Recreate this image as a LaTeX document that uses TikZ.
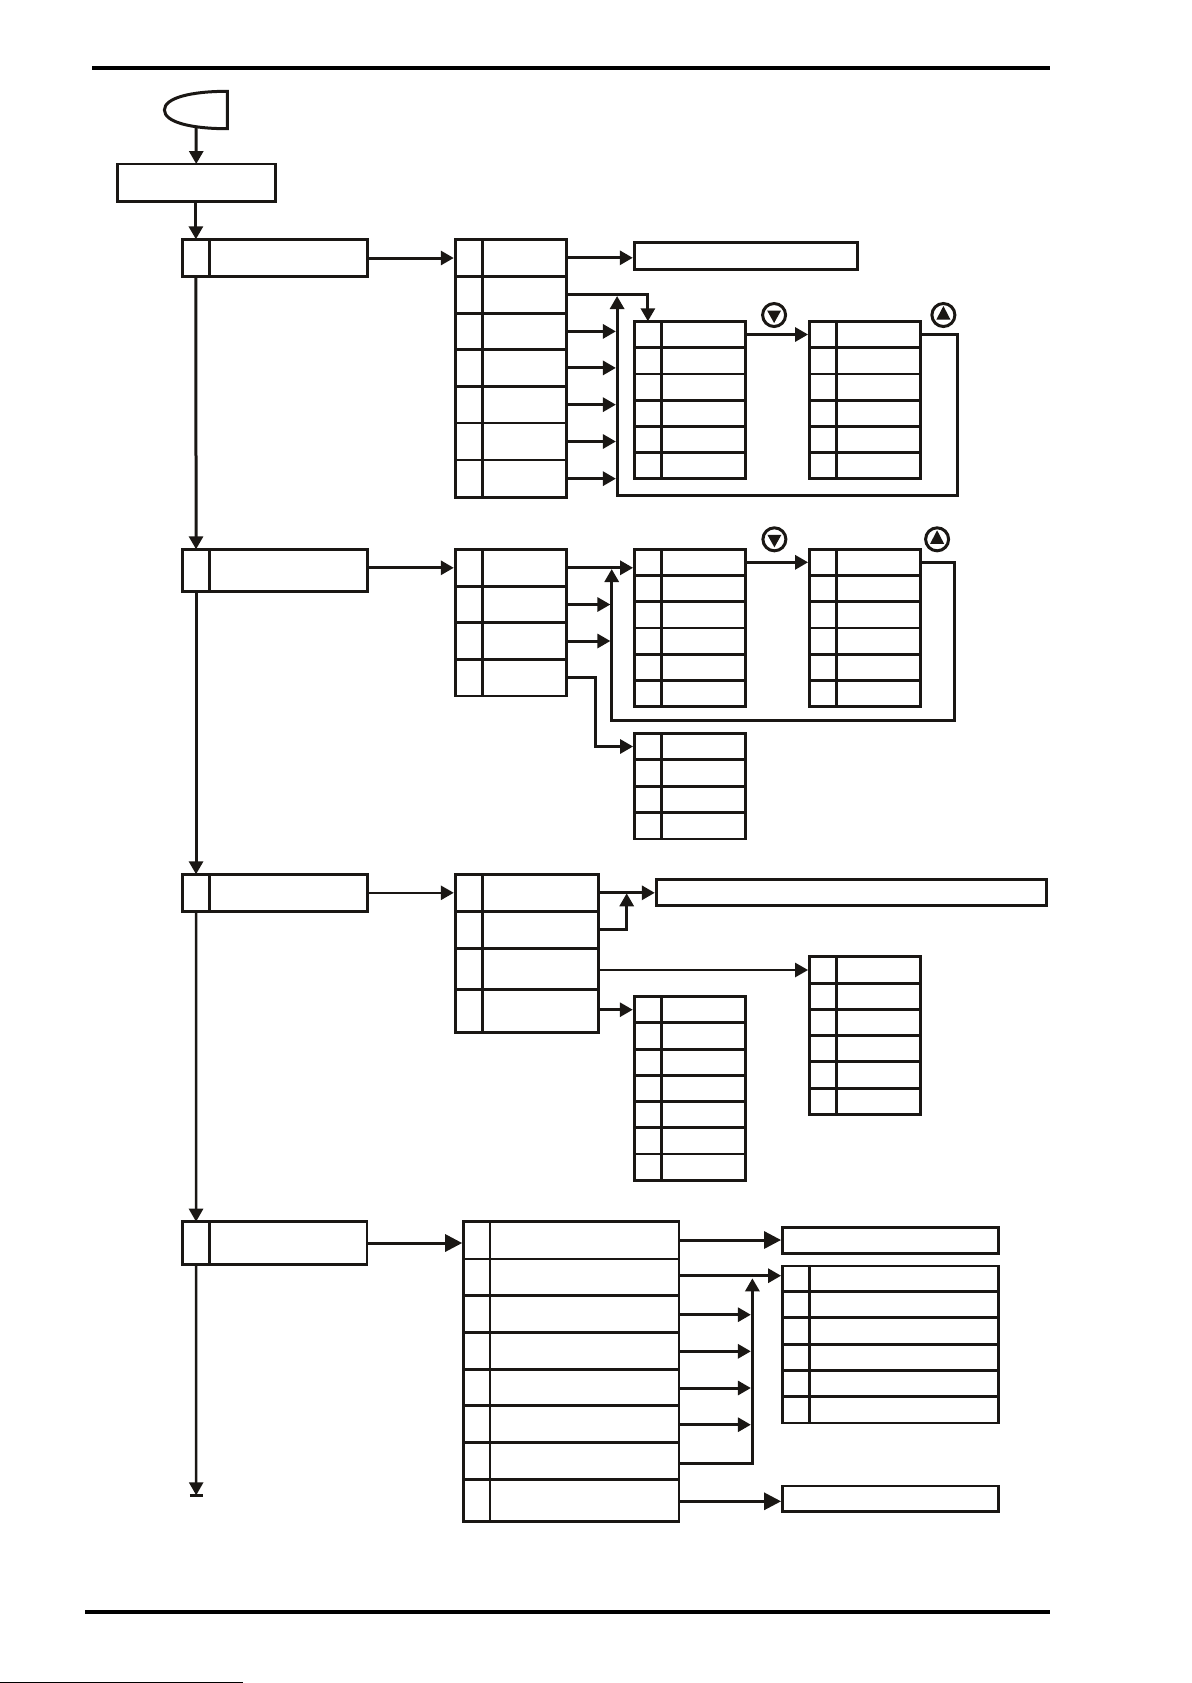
\documentclass[tikz,border=0pt]{standalone}
\usetikzlibrary{arrows.meta}
\definecolor{ink}{HTML}{1A1714}
\tikzset{
  cellb/.style={draw=ink,line width=1.4pt,shape=rectangle,anchor=north west,inner sep=0pt,outer sep=0pt,fill=white},
  conn/.style={draw=ink,line width=1.5pt,-{Triangle[length=6.5pt,width=7pt]}},
  bigconn/.style={draw=ink,line width=1.5pt,-{Triangle[length=8.5pt,width=8.5pt]}},
  thinconn/.style={draw=ink,line width=1.3pt,-{Triangle[length=6.5pt,width=7pt]}},
  tobox/.style={shorten >=0.8pt},
  pagerule/.style={draw=black,line width=2.15pt},
  keyring/.style={draw=ink,line width=1.5pt,shape=circle,inner sep=0pt,outer sep=0pt,minimum size=11.5pt}
}
\newcommand\cellbox[5]{\node[cellb,minimum width={(#4-#2)*0.5pt},minimum height={(#5-#3)*0.5pt}] (#1) at (#2,#3) {};}
% name, x left, x split, x right, list of row lines
\newcommand\tablebox[5]{%
  \foreach \yy [count=\ii, remember=\yy as \py (initially 0)] in {#5} {%
    \ifnum\ii>1
      \pgfmathtruncatemacro\rr{\ii-1}%
      \cellbox{#1L\rr}{#2}{\py}{#3}{\yy}%
      \cellbox{#1R\rr}{#3}{\py}{#4}{\yy}%
    \fi
  }%
}
\newcommand\keydown[3]{\node[keyring] (#1) at (#2,#3) {};
  \fill[ink] ({#2-7},{#3-4.5}) -- ({#2+7},{#3-4.5}) -- (#2,{#3+8}) -- cycle;}
\newcommand\keyup[3]{\node[keyring] (#1) at (#2,#3) {};
  \fill[ink] ({#2-7},{#3+4.5}) -- ({#2+7},{#3+4.5}) -- (#2,{#3-9}) -- cycle;}
\begin{document}
\begin{tikzpicture}[x=0.5pt,y=-0.5pt]
\useasboundingbox (0,0) rectangle (1191,1683);
% page rules
\coordinate (tl) at (92,68); \coordinate (tr) at (1050,68);
\coordinate (bl) at (85,1612); \coordinate (br) at (1050,1612);
\draw[pagerule] (tl) -- (tr);
\draw[pagerule] (bl) -- (br);
\coordinate (el) at (0,1682.3); \coordinate (er) at (243,1682.3);
\draw[black,line width=0.5pt] (el) -- (er);
\begin{scope}[xshift=0.2pt]
% start terminal
\draw[ink,line width=1.5pt,line join=miter] (227,91.3) -- (227,128.7) .. controls (190,128.7) and (164,122) .. (164,110) .. controls (164,98) and (190,91.3) .. (227,91.3) -- cycle;
\coordinate (startb) at (195.8,126);
\cellbox{init}{116.7}{164}{275}{201.7}
\draw[conn] (startb) -- (init.north);
% section 1
\tablebox{a}{182}{209}{367}{239.3,276.7}
\tablebox{la}{455}{481.7}{566}{239.3,276.3,313.3,349.5,386.3,423,460,497.3}
\cellbox{fa}{634}{242.7}{856.7}{269.3}
\tablebox{ta}{634}{661}{745.3}{321.3,347.7,374,400.3,426.3,452.3,478.7}
\tablebox{tb}{809.3}{836}{920}{321.3,347.7,374,400.3,426.3,452.3,478.7}
\draw[conn] (init.south -| aL1.north) -- (aL1.north);
\draw[conn,tobox] (aR1.east) -- (aR1.east -| laL1.west);
\draw[conn,tobox] (laR1.east) -- (laR1.east -| fa.west);
\draw[conn] (laR2.east) -| (taL1.north);
\draw[conn,tobox] (taR1.east) -- (tbL1.west);
\coordinate (ra) at (957.3,495.3); \coordinate (rb) at (616.7,495.3); \coordinate (rc) at (616.7,296);
\draw[conn,line join=miter] (tbR1.east) -| (ra) -- (rb) -- (rc);
\foreach \r in {3,...,7} {\coordinate (ja\r) at (615.5,0); \draw[conn] (laR\r.east) -- (laR\r.east -| ja\r);}
\keydown{ka}{773.7}{315}
\keyup{kb}{943}{315}
% section 2
\tablebox{b}{182.3}{209}{366.7}{549.3,591.3}
\tablebox{lb}{455}{481.7}{566}{549.3,586.3,622.7,659.3,696}
\tablebox{tc}{634.3}{661.3}{745.3}{549.3,575.3,601.3,628,654.3,680.7,706.3}
\tablebox{td}{809.3}{836}{920.3}{549.3,575.3,601.3,628,654.3,680.7,706.3}
\tablebox{te}{634.3}{661.3}{745.3}{733.3,759.7,786.3,812.7,839}
\draw[conn] (aL1.south) -- (bL1.north);
\draw[conn,tobox] (lbL1.west -| bR1.east) -- (lbL1.west);
\draw[conn,tobox] (lbR1.east) -- (lbR1.east -| tcL1.west);
\draw[conn,tobox] (tcR1.east) -- (tdL1.west);
\foreach \r in {2,3} {\coordinate (jb\r) at (610,0); \draw[conn] (lbR\r.east) -- (lbR\r.east -| jb\r);}
\coordinate (rd) at (953.7,720.3); \coordinate (re) at (611.3,720.3); \coordinate (rf) at (611.3,569);
\draw[conn,line join=miter] (tdR1.east) -| (rd) -- (re) -- (rf);
\coordinate (elb) at (595.3,700);
\draw[conn,tobox,line join=miter] (lbR4.east) -| (elb) |- (teL1.west);
\keydown{kc}{774}{539.3}
\keyup{kd}{936.7}{539.3}
% section 3
\tablebox{c}{182.3}{209}{366.7}{874.3,911.3}
\tablebox{lc}{455}{481.7}{597.7}{874.3,911.3,948.3,989.3,1032.3}
\cellbox{fc}{656}{879.3}{1046}{905.3}
\tablebox{tf}{634}{661}{745.3}{996.7,1022.7,1049.3,1075.3,1101.7,1127.7,1154,1180.3}
\tablebox{tg}{809.3}{836}{920}{956.7,983.3,1009.7,1035.7,1061.7,1088.3,1114.3}
\draw[conn] (bL1.south) -- (cL1.north);
\draw[thinconn,tobox] (cR1.east) -- (cR1.east -| lcL1.west);
\draw[conn,tobox] (lcR1.east) -- (lcR1.east -| fc.west);
\coordinate (rg) at (626.3,893.3);
\draw[conn,line join=miter] (lcR2.east) -| (rg);
\draw[thinconn,tobox] (tgL1.west -| lcR3.east) -- (tgL1.west);
\draw[conn,tobox] (tfL1.west -| lcR4.east) -- (tfL1.west);
% section 4
\tablebox{d}{182.4}{208.9}{366.6}{1221.7,1264.3}
\tablebox{ld}{463.4}{489.6}{678.6}{1221.7,1259,1295.7,1332.7,1369.3,1405.3,1442.7,1479.3,1521.3}
\cellbox{fd}{782.3}{1227.7}{997.7}{1253.3}
\tablebox{th}{782.3}{808.7}{997.7}{1266,1291.3,1317.7,1344.3,1370.3,1396.7,1423}
\cellbox{gd}{782.3}{1486}{997.7}{1511.7}
\draw[thinconn] (cL1.south) -- (dL1.north);
\draw[bigconn,tobox] (dR1.east) -- (dR1.east -| ldL1.west);
\coordinate (k1) at (679,1240);
\draw[bigconn,tobox] (k1) -- (k1 -| fd.west);
\coordinate (k2) at (679,1275.7);
\draw[conn,tobox] (k2) -- (k2 -| thL1.west);
\coordinate (j3) at (750.5,1314.7); \coordinate (j4) at (750.5,1351.3);
\coordinate (j5) at (750.5,1388); \coordinate (j6) at (750.5,1424.7);
\foreach \r in {3,4,5,6} {\draw[conn] (ldR\r.east |- j\r) -- (j\r);}
\coordinate (k7) at (752,1463.3); \coordinate (k7t) at (752,1278.3);
\draw[conn,line join=miter] (ldR7.east |- k7) -- (k7) -- (k7t);
\coordinate (k8) at (679,1501.3);
\draw[bigconn,tobox] (k8) -- (k8 -| gd.west);
\coordinate (endbar) at (195.8,1495.3);
\draw[thinconn] (dL1.south) -- (endbar);
\draw[ink,line width=1.3pt] ([xshift=-3.2pt]endbar) -- ([xshift=3.2pt]endbar);
\end{scope}
\end{tikzpicture}
\end{document}
